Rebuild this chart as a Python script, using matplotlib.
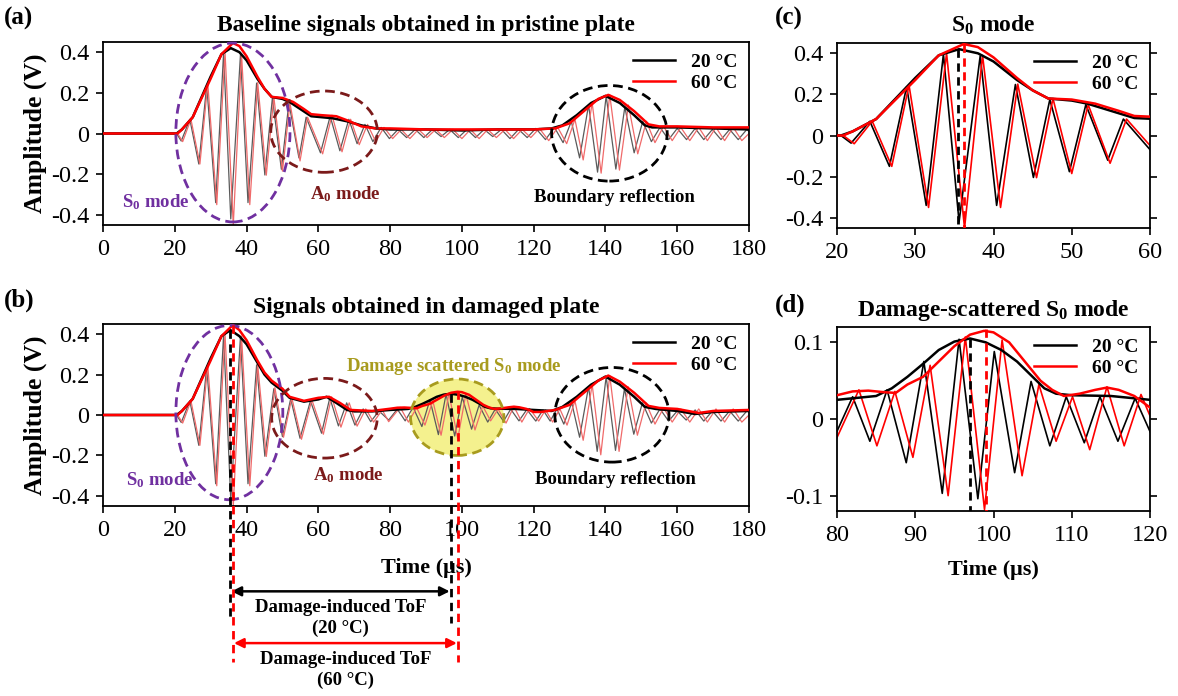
import numpy as np
import matplotlib.pyplot as plt
from matplotlib.patches import Ellipse

plt.rcParams['font.family'] = ['Liberation Serif', 'DejaVu Serif']
plt.rcParams['mathtext.fontset'] = 'custom'
plt.rcParams['mathtext.rm'] = 'Liberation Serif'
plt.rcParams['mathtext.bf'] = 'Liberation Serif:bold'
plt.rcParams['axes.unicode_minus'] = False

# ---- signal extrema (time in us, amplitude in V) ----
# S0 packet, same in both plates
s0_20 = [(0, 0), (20.5, 0), (21.8, -0.037), (24.2, 0.069), (26.7, -0.15), (28.9, 0.237),
         (31.4, -0.34), (33.6, 0.395), (35.6, -0.42), (38.3, 0.387), (40.4, -0.34),
         (42.8, 0.248), (45.1, -0.204)]
s0_60 = [(0, 0), (20.8, 0), (22.2, -0.04), (24.5, 0.07), (27.0, -0.15), (29.2, 0.245),
         (31.7, -0.35), (34.0, 0.40), (36.3, -0.45), (38.6, 0.39), (40.9, -0.35),
         (43.1, 0.25), (45.5, -0.205)]

# pristine plate, rest of record
pristine_20 = [(47.2, 0.175), (49.7, -0.176), (51.8, 0.15), (54.6, -0.12), (56.6, 0.08),
               (60.6, -0.095), (63.3, 0.085), (66.0, -0.085), (68.5, 0.07), (70.8, -0.05),
               (73.0, 0.045), (75.2, -0.04), (77.5, 0.03), (79.8, -0.025), (82.2, 0.02),
               (84.6, -0.02), (87.0, 0.02), (89.4, -0.02), (91.8, 0.02), (94.2, -0.015),
               (96.6, 0.02), (99.0, -0.02), (101.4, 0.02), (103.8, -0.02), (106.2, 0.02),
               (108.6, -0.015), (111.0, 0.02), (113.4, -0.025), (115.8, 0.02), (118.2, -0.02),
               (120.6, 0.025), (123.3, -0.03), (125.8, 0.03), (128.2, -0.045), (130.5, 0.06),
               (132.8, -0.12), (135.3, 0.14), (137.8, -0.19), (140.2, 0.185), (142.9, -0.175),
               (145.4, 0.13), (148.0, -0.095), (150.4, 0.06), (152.8, -0.04), (155.2, 0.03),
               (157.6, -0.03), (160.0, 0.025), (162.6, -0.03), (165.0, 0.025), (167.4, -0.03),
               (169.8, 0.02), (172.2, -0.03), (174.6, 0.02), (177.0, -0.03), (179.4, 0.02),
               (180.0, 0.01)]
pristine_60 = [(47.6, 0.18), (50.0, -0.185), (52.1, 0.15), (54.9, -0.135), (57.0, 0.08),
               (61.2, -0.1), (63.8, 0.09), (66.6, -0.09), (69.0, 0.07), (71.4, -0.055),
               (73.7, 0.045), (76.0, -0.04), (78.3, 0.03), (80.7, -0.025), (83.1, 0.02),
               (85.5, -0.025), (87.9, 0.02), (90.3, -0.02), (92.7, 0.02), (95.1, -0.02),
               (97.5, 0.02), (100.0, -0.025), (102.4, 0.02), (104.8, -0.025), (107.2, 0.02),
               (109.6, -0.02), (112.0, 0.02), (114.4, -0.025), (116.8, 0.02), (119.2, -0.02),
               (121.6, 0.025), (124.2, -0.035), (126.7, 0.03), (129.2, -0.05), (131.5, 0.07),
               (133.8, -0.13), (136.3, 0.15), (138.8, -0.195), (141.2, 0.19), (143.9, -0.18),
               (146.4, 0.14), (149.0, -0.1), (151.4, 0.06), (153.8, -0.045), (156.2, 0.035),
               (158.6, -0.035), (161.0, 0.03), (163.5, -0.035), (166.0, 0.03), (168.4, -0.035),
               (170.8, 0.03), (173.2, -0.035), (175.6, 0.03), (178.0, -0.035), (180.0, 0.0)]

# damaged plate, rest of record
damaged_20 = [(47.6, 0.13), (50.0, -0.107), (52.3, 0.08), (54.9, -0.115), (57.8, 0.07),
              (60.9, -0.09), (63.2, 0.085), (65.6, -0.054), (67.9, 0.06), (70.2, -0.05),
              (72.5, 0.03), (74.6, -0.033), (76.9, 0.02), (79.6, -0.025), (82.0, 0.029),
              (84.2, -0.029), (86.4, 0.038), (88.85, -0.057), (91.1, 0.075), (93.45, -0.097),
              (95.6, 0.104), (98.0, -0.104), (100.1, 0.088), (102.7, -0.07), (104.8, 0.049),
              (107.2, -0.035), (109.3, 0.029), (111.6, -0.031), (113.6, 0.029), (115.9, -0.029),
              (118.1, 0.027), (120.6, -0.03), (122.6, 0.025), (124.6, -0.03), (126.5, 0.03),
              (128.4, -0.045), (130.6, 0.06), (132.8, -0.11), (135.3, 0.14), (137.7, -0.18),
              (140.2, 0.19), (142.8, -0.175), (145.3, 0.13), (147.9, -0.095), (150.3, 0.06),
              (152.8, -0.04), (155.2, 0.03), (157.6, -0.03), (160.0, 0.02), (162.5, -0.025),
              (165.0, 0.025), (167.4, -0.03), (169.8, 0.02), (172.2, -0.03), (174.6, 0.02),
              (177.0, -0.03), (179.4, 0.02), (180.0, 0.015)]
damaged_60 = [(47.9, 0.135), (50.3, -0.11), (52.6, 0.085), (55.3, -0.12), (58.2, 0.075),
              (61.4, -0.095), (63.7, 0.09), (66.3, -0.06), (68.6, 0.06), (70.8, -0.055),
              (73.2, 0.03), (75.4, -0.035), (77.8, 0.025), (79.6, -0.033), (82.8, 0.038),
              (85.1, -0.035), (87.4, 0.036), (89.7, -0.05), (91.9, 0.07), (94.2, -0.1),
              (96.4, 0.107), (98.85, -0.118), (101.1, 0.103), (103.65, -0.074), (105.8, 0.045),
              (108.0, -0.029), (110.1, 0.029), (112.3, -0.04), (114.5, 0.042), (116.7, -0.035),
              (118.85, 0.032), (121.4, -0.03), (123.3, 0.025), (125.3, -0.035), (127.3, 0.03),
              (129.3, -0.05), (131.5, 0.07), (133.8, -0.125), (136.3, 0.15), (138.7, -0.197),
              (141.2, 0.195), (143.8, -0.18), (146.3, 0.14), (148.9, -0.1), (151.3, 0.06),
              (153.8, -0.045), (156.2, 0.035), (158.6, -0.035), (161.0, 0.03), (163.5, -0.035),
              (166.0, 0.03), (168.4, -0.035), (170.8, 0.03), (173.2, -0.035), (175.6, 0.03),
              (178.0, -0.035), (180.0, 0.0)]

# envelopes
env_p20 = [(0, 0), (20.5, 0), (22, 0.02), (25, 0.08), (28, 0.2), (30, 0.28), (33, 0.39),
           (35.6, 0.42), (38, 0.4), (40, 0.36), (43, 0.27), (45, 0.22), (47, 0.18), (50, 0.17),
           (52, 0.155), (55, 0.12), (58, 0.085), (61, 0.08), (64, 0.075), (68, 0.06), (72, 0.04),
           (76, 0.025), (80, 0.02), (90, 0.02), (100, 0.015), (110, 0.02), (120, 0.02),
           (125, 0.025), (128, 0.04), (132, 0.09), (136, 0.15), (140, 0.185), (144, 0.15),
           (148, 0.09), (151, 0.04), (153, 0.03), (160, 0.03), (170, 0.025), (180, 0.02)]
env_p60 = [(0, 0), (20.8, 0), (22, 0.02), (25, 0.08), (30, 0.27), (33, 0.39), (36.2, 0.445),
           (38, 0.43), (40, 0.38), (43, 0.28), (45, 0.22), (47, 0.18), (50, 0.175), (53, 0.155),
           (56, 0.12), (58, 0.095), (61, 0.09), (65, 0.085), (68, 0.065), (72, 0.035),
           (76, 0.025), (80, 0.025), (90, 0.02), (100, 0.02), (110, 0.02), (120, 0.02),
           (126, 0.025), (130, 0.05), (134, 0.11), (138, 0.17), (140.8, 0.19), (144, 0.165),
           (148, 0.11), (152, 0.045), (155, 0.035), (160, 0.035), (170, 0.03), (180, 0.03)]
env_d20 = [(0, 0), (20.5, 0), (22, 0.02), (25, 0.08), (28, 0.2), (30, 0.28), (33, 0.39),
           (35.5, 0.42), (38, 0.39), (40, 0.35), (43, 0.26), (45, 0.2), (47, 0.16), (50, 0.12),
           (52, 0.085), (56, 0.066), (60, 0.077), (62.3, 0.09), (65, 0.06), (68, 0.025),
           (70, 0.018), (75, 0.018), (80, 0.025), (82, 0.027), (85, 0.03), (87, 0.04),
           (89, 0.055), (91, 0.072), (93, 0.09), (95, 0.101), (97, 0.105), (99, 0.1),
           (101, 0.09), (103, 0.075), (105, 0.055), (106.5, 0.04), (108, 0.033), (110, 0.031),
           (115, 0.03), (120, 0.025), (125, 0.02), (128, 0.04), (132, 0.09), (136, 0.15),
           (140, 0.19), (144, 0.15), (148, 0.09), (151, 0.04), (154, 0.03), (160, 0.02),
           (165, 0.005), (170, 0.015), (180, 0.02)]
env_d60 = [(0, 0), (20.8, 0), (22, 0.02), (25, 0.08), (30, 0.27), (33, 0.39), (36.2, 0.445),
           (38, 0.42), (40, 0.37), (43, 0.27), (45, 0.21), (47, 0.17), (50, 0.13), (52, 0.09),
           (56, 0.07), (60, 0.085), (63, 0.09), (66, 0.06), (69, 0.025), (75, 0.02),
           (80, 0.031), (82, 0.036), (84, 0.037), (86, 0.035), (87.5, 0.034), (89, 0.045),
           (91, 0.055), (93, 0.075), (95, 0.095), (97, 0.11), (98.8, 0.115), (100, 0.113),
           (102, 0.1), (104, 0.075), (106, 0.05), (107.5, 0.038), (109, 0.03), (111, 0.033),
           (113, 0.038), (114.5, 0.041), (116, 0.038), (118, 0.03), (120, 0.015), (122, 0.015),
           (126, 0.025), (130, 0.05), (134, 0.11), (138, 0.17), (140.8, 0.195), (144, 0.165),
           (148, 0.11), (152, 0.045), (155, 0.035), (160, 0.03), (166, 0.01), (170, 0.02),
           (180, 0.025)]

# arrival times of envelope maxima (20 C, 60 C)
s0_peak_t = [35.5, 36.2]
s0_peak_a = [0.42, 0.445]
scat_peak_t = [97.0, 99.0]
scat_peak_a = [0.105, 0.117]

temps = ['20 \u00b0C', '60 \u00b0C']
wide_xticks = list(range(0, 181, 20))
amp_ticks = [-0.4, -0.2, 0, 0.2, 0.4]
amp_labels = ['-0.4', '-0.2', '0', '0.2', '0.4']


def xy(pairs):
    arr = np.array(pairs, dtype=float)
    return arr[:, 0], arr[:, 1]


p20 = xy(s0_20 + pristine_20)
p60 = xy(s0_60 + pristine_60)
d20 = xy(s0_20 + damaged_20)
d60 = xy(s0_60 + damaged_60)

PURPLE = '#7030A0'
DARKRED = '#7B1A1A'
OLIVE = '#A89B1E'

fig = plt.figure(figsize=(11.78, 6.96), dpi=100)
W, H = 1178, 696


def box(l, r, t, b):
    return [l / W, 1 - b / H, (r - l) / W, (b - t) / H]


ax_a = fig.add_axes(box(103, 749, 42, 225))
ax_b = fig.add_axes(box(103, 749, 324, 506))
ax_c = fig.add_axes(box(837, 1150, 43, 228))
ax_d = fig.add_axes(box(837, 1150, 327, 511))


def style(ax, xlim, xticks, ylim, yticks, ylabels, right_ticks=False):
    ax.set_xlim(*xlim)
    ax.set_ylim(*ylim)
    ax.set_xticks(xticks)
    ax.set_yticks(yticks, ylabels)
    ax.tick_params(labelsize=17.5, width=1.2, length=5, direction='out',
                   right=right_ticks, pad=5)
    for s in ax.spines.values():
        s.set_linewidth(1.3)


def draw(ax, sig20, sig60, env20, env60, raw_lw, raw_cols):
    ax.plot(*sig20, color=raw_cols[0], lw=raw_lw, zorder=2)
    ax.plot(*sig60, color=raw_cols[1], lw=raw_lw, zorder=2)
    l1, = ax.plot(*xy(env20), color='black', lw=1.8, zorder=3)
    l2, = ax.plot(*xy(env60), color='red', lw=1.8, zorder=3)
    ax.legend([l1, l2], temps, loc='upper right', frameon=False, handlelength=2.2,
              prop={'weight': 'bold', 'size': 14}, borderaxespad=0.2, labelspacing=0.15)


def ring(ax, cx, cy, w, h, col, fill=None):
    if fill is not None:
        ax.add_patch(Ellipse((cx, cy), w, h, facecolor=fill, edgecolor='none', zorder=1))
    ax.add_patch(Ellipse((cx, cy), w, h, facecolor='none', edgecolor=col, lw=2,
                         linestyle=(0, (3.5, 2)), zorder=4, clip_on=False))


def label(ax, x, y, s, col):
    ax.text(x, y, s, color=col, fontsize=13.5, fontweight='bold', ha='center', va='center',
            zorder=5)


s0_txt = r'$\mathbf{S_0}$ mode'
a0_txt = r'$\mathbf{A_0}$ mode'

# (a) pristine
draw(ax_a, p20, p60, env_p20, env_p60, 0.9, ('#5a5a5a', '#f06a6a'))
style(ax_a, (0, 180), wide_xticks, (-0.45, 0.45), amp_ticks, amp_labels)
ax_a.set_ylabel('Amplitude (V)', fontsize=18.5, fontweight='bold', labelpad=3)
ax_a.set_title('Baseline signals obtained in pristine plate', fontsize=17,
               fontweight='bold', pad=8)
ring(ax_a, 36.2, 0.005, 31.8, 0.88, PURPLE)
ring(ax_a, 61.6, 0.009, 29.7, 0.40, DARKRED)
ring(ax_a, 141.1, 0.001, 32.2, 0.47, 'black')
label(ax_a, 14.6, -0.338, s0_txt, PURPLE)
label(ax_a, 67.6, -0.297, a0_txt, DARKRED)
label(ax_a, 142.6, -0.317, 'Boundary reflection', 'black')

# (b) damaged
draw(ax_b, d20, d60, env_d20, env_d60, 0.9, ('#5a5a5a', '#f06a6a'))
style(ax_b, (0, 180), wide_xticks, (-0.45, 0.45), amp_ticks, amp_labels)
ax_b.set_ylabel('Amplitude (V)', fontsize=18.5, fontweight='bold', labelpad=3)
ax_b.set_xlabel('Time (\u03bcs)', fontsize=16, fontweight='bold', labelpad=12)
ax_b.set_title('Signals obtained in damaged plate', fontsize=17, fontweight='bold', pad=8)
ring(ax_b, 35.2, 0.012, 29.8, 0.862, PURPLE)
ring(ax_b, 61.7, -0.016, 29.4, 0.394, DARKRED)
ring(ax_b, 98.7, -0.011, 26.0, 0.378, OLIVE, fill='#f4f18e')
ring(ax_b, 141.8, 0.001, 31.8, 0.468, 'black')
label(ax_b, 15.8, -0.324, s0_txt, PURPLE)
label(ax_b, 68.5, -0.296, a0_txt, DARKRED)
label(ax_b, 97.8, 0.238, r'Damage scattered $\mathbf{S_0}$ mode', OLIVE)
label(ax_b, 142.7, -0.317, 'Boundary reflection', 'black')

# time-of-flight markers running below panel (b)
dash = (0, (3, 2))
ends = [(-1.0, -1.03), (-1.22, -1.22)]
for i, col in enumerate(['black', 'red']):
    ax_b.plot([s0_peak_t[i], s0_peak_t[i]], [s0_peak_a[i], ends[i][0]], color=col, lw=2,
              linestyle=dash, clip_on=False, zorder=6)
    ax_b.plot([scat_peak_t[i], scat_peak_t[i]], [scat_peak_a[i], ends[i][1]], color=col, lw=2,
              linestyle=dash, clip_on=False, zorder=6)
arrow_y = [-0.872, -1.128]
text_y = [-1.005, -1.262]
for i, col in enumerate(['black', 'red']):
    ax_b.annotate('', xy=(s0_peak_t[i] + 0.3, arrow_y[i]),
                  xytext=(scat_peak_t[i] - 0.4, arrow_y[i]),
                  arrowprops=dict(arrowstyle='<|-|>', color=col, lw=1.8, mutation_scale=14,
                                  shrinkA=0, shrinkB=0), annotation_clip=False)
    ax_b.text((s0_peak_t[i] + scat_peak_t[i]) / 2, text_y[i],
              'Damage-induced ToF\n(' + temps[i] + ')', ha='center', va='center',
              fontsize=13.5, fontweight='bold', linespacing=1.25, clip_on=False)

# (c) S0 zoom, pristine plate
draw(ax_c, p20, p60, env_p20, env_p60, 1.2, ('black', 'red'))
style(ax_c, (20, 60), [20, 30, 40, 50, 60], (-0.45, 0.45), amp_ticks, amp_labels,
      right_ticks=True)
ax_c.set_title(r'$\mathbf{S_0}$ mode', fontsize=17, fontweight='bold', pad=8)
for i, col in enumerate(['black', 'red']):
    ax_c.plot([s0_peak_t[i], s0_peak_t[i]], [s0_peak_a[i], -0.45], color=col, lw=2,
              linestyle=dash, zorder=4)

# (d) scattered S0 zoom, damaged plate
draw(ax_d, d20, d60, env_d20, env_d60, 1.2, ('black', 'red'))
style(ax_d, (80, 120), [80, 90, 100, 110, 120], (-0.12, 0.12), [-0.1, 0, 0.1],
      ['-0.1', '0', '0.1'], right_ticks=True)
ax_d.set_title(r'Damage-scattered $\mathbf{S_0}$ mode', fontsize=17, fontweight='bold', pad=8)
ax_d.set_xlabel('Time (\u03bcs)', fontsize=16, fontweight='bold', labelpad=10)
for i, col in enumerate(['black', 'red']):
    ax_d.plot([scat_peak_t[i], scat_peak_t[i]], [scat_peak_a[i], -0.12], color=col, lw=2,
              linestyle=dash, zorder=4)

for s, x, y in [('(a)', 4, 18), ('(b)', 4, 300), ('(c)', 775, 18), ('(d)', 775, 305)]:
    fig.text(x / W, 1 - y / H, s, fontsize=18, fontweight='bold', va='center', ha='left')

fig.savefig('out.png', dpi=100)
